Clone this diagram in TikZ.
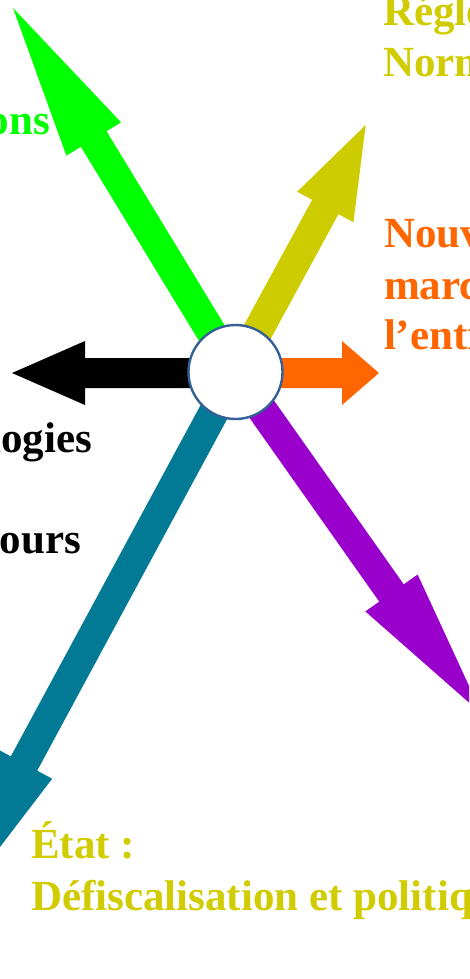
\documentclass[tikz,border=0pt]{standalone}
\usepackage{fontspec}
\setmainfont{Liberation Serif}
\usetikzlibrary{calc}
\definecolor{cgreen}{RGB}{0,255,0}
\definecolor{cyellow}{RGB}{204,204,0}
\definecolor{ctext}{RGB}{208,204,0}
\definecolor{corange}{RGB}{255,102,0}
\definecolor{cpurple}{RGB}{153,0,204}
\definecolor{cteal}{RGB}{2,122,150}
\definecolor{cborder}{RGB}{52,96,150}
\newcommand\fatarr[4]{\fill[#1] ($(#2)!15pt!90:(#3)$) -- ($(#3)!15pt!-90:(#2)$) -- ($(#3)!32pt!-90:(#2)$) -- (#4) -- ($(#3)!32pt!90:(#2)$) -- ($(#3)!15pt!90:(#2)$) -- ($(#2)!15pt!-90:(#3)$) -- cycle;}
\begin{document}
\begin{tikzpicture}[x=1pt,y=-1pt,
  lbl/.style={inner sep=0pt, outer sep=0pt, font=\fontsize{43}{51}\selectfont\bfseries}]
\useasboundingbox (0,0) rectangle (469,979);
\clip (0,0) rectangle (469,979);
% centre and arrow geometry
\coordinate (S) at (235.5,372);
\coordinate (gB) at (93.7,139);   \coordinate (gT) at (13,8);
\coordinate (yB) at (325.3,207);  \coordinate (yT) at (365.7,125);
\coordinate (oS) at (235.5,373);  \coordinate (oB) at (342,373);  \coordinate (oT) at (379,373);
\coordinate (kB) at (85,373);     \coordinate (kT) at (12,373);
\coordinate (pB) at (391.5,593);  \coordinate (pT) at (482,714);
\coordinate (tB) at (24,763.5);   \coordinate (tT) at (-71,940);
\fatarr{cgreen}{S}{gB}{gT}
\fatarr{cyellow}{S}{yB}{yT}
\fatarr{corange}{oS}{oB}{oT}
\fatarr{black}{oS}{kB}{kT}
\fatarr{cpurple}{S}{pB}{pT}
\fatarr{cteal}{S}{tB}{tT}
\node[circle, draw=cborder, line width=2.4pt, fill=white, minimum size=94pt, inner sep=0pt] (c) at (S) {};
% texts
\node[lbl, text=ctext, anchor=base west] (r1) at (383,26) {Régle};
\node[lbl, text=ctext, anchor=base west] (r2) at (383,77) {Norme};
\node[lbl, text=corange, anchor=base west] (n1) at (384,247) {Nouve};
\node[lbl, text=corange, anchor=base west] (n2) at (384,299) {marché};
\node[lbl, text=corange, anchor=base west] (n3) at (384,349) {l’entre};
\node[lbl, text=cgreen, anchor=base east] (g1) at (50,135) {ions};
\node[lbl, text=black, anchor=base east] (k1) at (92,452) {ologies};
\node[lbl, text=black, anchor=base east] (k2) at (81,553) {cours};
\node[lbl, text=ctext, anchor=base west] (e1) at (31,858) {État :};
\node[lbl, text=ctext, anchor=base west] (e2) at (31,910) {Défiscalisation et politique};
\end{tikzpicture}
\end{document}
